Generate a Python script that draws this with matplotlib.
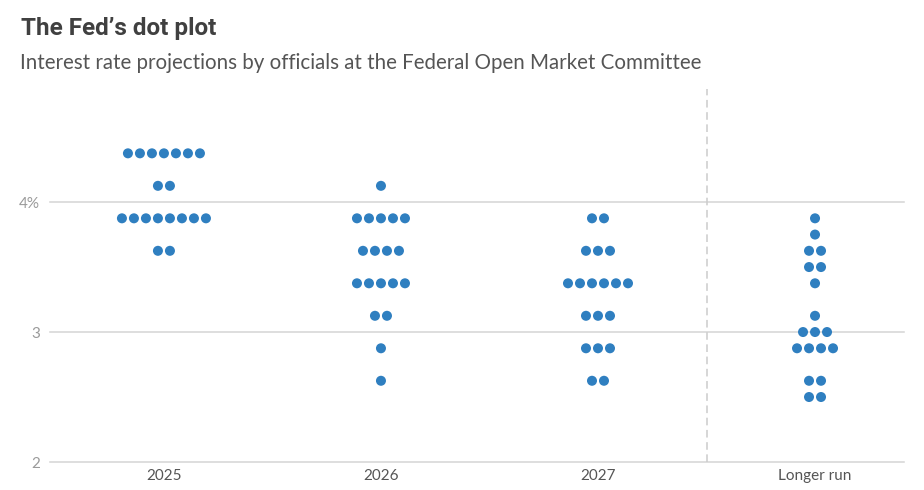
import matplotlib.pyplot as plt
import numpy as np

# dot plot data: (rate, number of officials) per column
categories = ['2025', '2026', '2027', 'Longer run']
rates_2025 = [4.375, 4.125, 3.875, 3.625]
counts_2025 = [7, 2, 8, 2]
rates_2026 = [4.125, 3.875, 3.625, 3.375, 3.125, 2.875, 2.625]
counts_2026 = [1, 5, 4, 5, 2, 1, 1]
rates_2027 = [3.875, 3.625, 3.375, 3.125, 2.875, 2.625]
counts_2027 = [2, 3, 6, 3, 3, 2]
rates_long = [3.875, 3.75, 3.625, 3.5, 3.375, 3.125, 3.0, 2.875, 2.625, 2.5]
counts_long = [1, 1, 2, 2, 1, 1, 3, 4, 2, 2]
yticks = [2, 3, 4]
ylabels = ['2', '3', '4%']

columns = [(rates_2025, counts_2025), (rates_2026, counts_2026),
           (rates_2027, counts_2027), (rates_long, counts_long)]

fig = plt.figure(figsize=(9.24, 4.9), dpi=100)
ax = fig.add_axes([50/924, 28/490, 854/924, 373/490])

dx = 0.0553
for ci, (rates, counts) in enumerate(columns):
    xs, ys = [], []
    for r, n in zip(rates, counts):
        for i in range(n):
            xs.append(ci + (i - (n - 1) / 2) * dx)
            ys.append(r)
    ax.scatter(xs, ys, s=52, color='#2f7fc0', edgecolors='none', zorder=3)

ax.set_xlim(-0.525, 3.41)
ax.set_ylim(2, 4.87)
for y in yticks:
    ax.axhline(y, color='#d4d4d4', lw=1.1, zorder=1, clip_on=False)
ax.axvline(2.5, color='#cccccc', lw=1.1, ls=(0, (5, 3)), zorder=1)

ax.set_yticks(yticks)
ax.set_yticklabels(ylabels, fontsize=11, color='#9a9a9a', family='Lato')
ax.set_xticks(range(len(categories)))
ax.set_xticklabels(categories, fontsize=11, color='#555555', family='Lato')
ax.tick_params(axis='both', length=0)
ax.tick_params(axis='y', pad=7)
ax.tick_params(axis='x', pad=5)
for sp in ax.spines.values():
    sp.set_visible(False)

fig.text(21/924, 1 - 35/490, 'The Fed\u2019s dot plot', fontsize=17.5, fontweight='bold',
         color='#404040', family='Roboto')
fig.text(20/924, 1 - 69/490, 'Interest rate projections by officials at the Federal Open Market Committee',
         fontsize=14.8, color='#555555', family='Lato')

fig.savefig('out.png', dpi=100)
